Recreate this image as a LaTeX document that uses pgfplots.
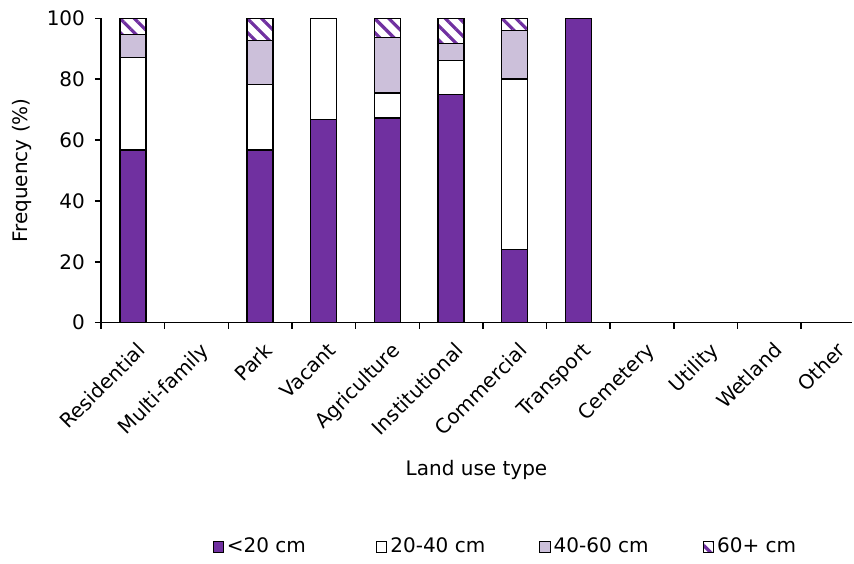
\documentclass[border=0pt]{standalone}
\usepackage{fontspec}
\setmainfont{DejaVu Sans}
\usepackage{pgfplots}
\pgfplotsset{compat=1.18}
\usetikzlibrary{patterns.meta}
\definecolor{cpurple}{RGB}{112,48,160}
\definecolor{clight}{RGB}{204,192,218}
\begin{document}
\begin{tikzpicture}[font=\fontsize{10}{12}\selectfont]
\begin{axis}[
  scale only axis, width=375.5pt, height=152.2pt,
  at={(0,0)}, anchor=south west,
  ybar stacked, bar width=13pt,
  xmin=-0.5, xmax=11.3, ymin=0, ymax=100,
  axis lines=left, axis line style={line width=0.7pt, -},
  tick align=outside,
  ytick={0,20,40,60,80,100},
  major tick length=3pt,
  tick style={line width=0.7pt, black},
  xtick={0,1,2,3,4,5,6,7,8,9,10,11},
  xticklabels={Residential,Multi-family,Park,Vacant,Agriculture,Institutional,Commercial,Transport,Cemetery,Utility,Wetland,Other},
  major x tick style={draw=none},
  minor xtick={-0.5,0.5,1.5,2.5,3.5,4.5,5.5,6.5,7.5,8.5,9.5,10.5},
  minor tick length=3pt,
  xticklabel style={xshift=1.5pt, yshift=-6pt, rotate=45, anchor=north east, inner sep=0pt},
  yticklabel style={xshift=-1.5pt},
  /pgf/number format/assume math mode=true,
  ylabel={Frequency (\%)},
  xlabel={Land use type},
  ylabel style={at={(axis description cs:-0.105,0.5)}, anchor=center},
  xlabel style={at={(axis description cs:0.5,-0.483)}, anchor=center},
  every axis plot/.append style={draw=black, line width=0.7pt},
  legend columns=4,
  legend style={at={(0.148,-0.737)}, anchor=west, draw=none, fill=none, inner sep=0pt,
     nodes={inner sep=1.5pt}},
  legend image code/.code={\draw[#1, line width=0.5pt] (0pt,-2.6pt) rectangle (5.2pt,2.6pt);},
]
\addplot[fill=cpurple] coordinates {(0,56.7) (2,56.7) (3,66.7) (4,67.3) (5,75.0) (6,24.0) (7,100)};
\addplot[fill=white] coordinates {(0,30.4) (2,21.6) (3,33.3) (4,8.1) (5,11.1) (6,56.0) (7,0)};
\addplot[fill=clight] coordinates {(0,7.5) (2,14.5) (3,0) (4,18.3) (5,5.6) (6,16.0) (7,0)};
\addplot[pattern={Lines[angle=-45, distance=5pt, line width=1.6pt]}, pattern color=cpurple] coordinates {(0,5.4) (2,7.2) (3,0) (4,6.3) (5,8.3) (6,4.0) (7,0)};
\addlegendentry{\makebox[73pt][l]{<20 cm}}
\addlegendentry{\makebox[73pt][l]{20-40 cm}}
\addlegendentry{\makebox[73pt][l]{40-60 cm}}
\addlegendentry{\makebox[45pt][l]{60+ cm}}
\end{axis}
\pgfresetboundingbox
\path[use as bounding box] (-50.5pt,-120.15pt) rectangle (376.5pt,161.35pt);
\end{tikzpicture}
\end{document}
